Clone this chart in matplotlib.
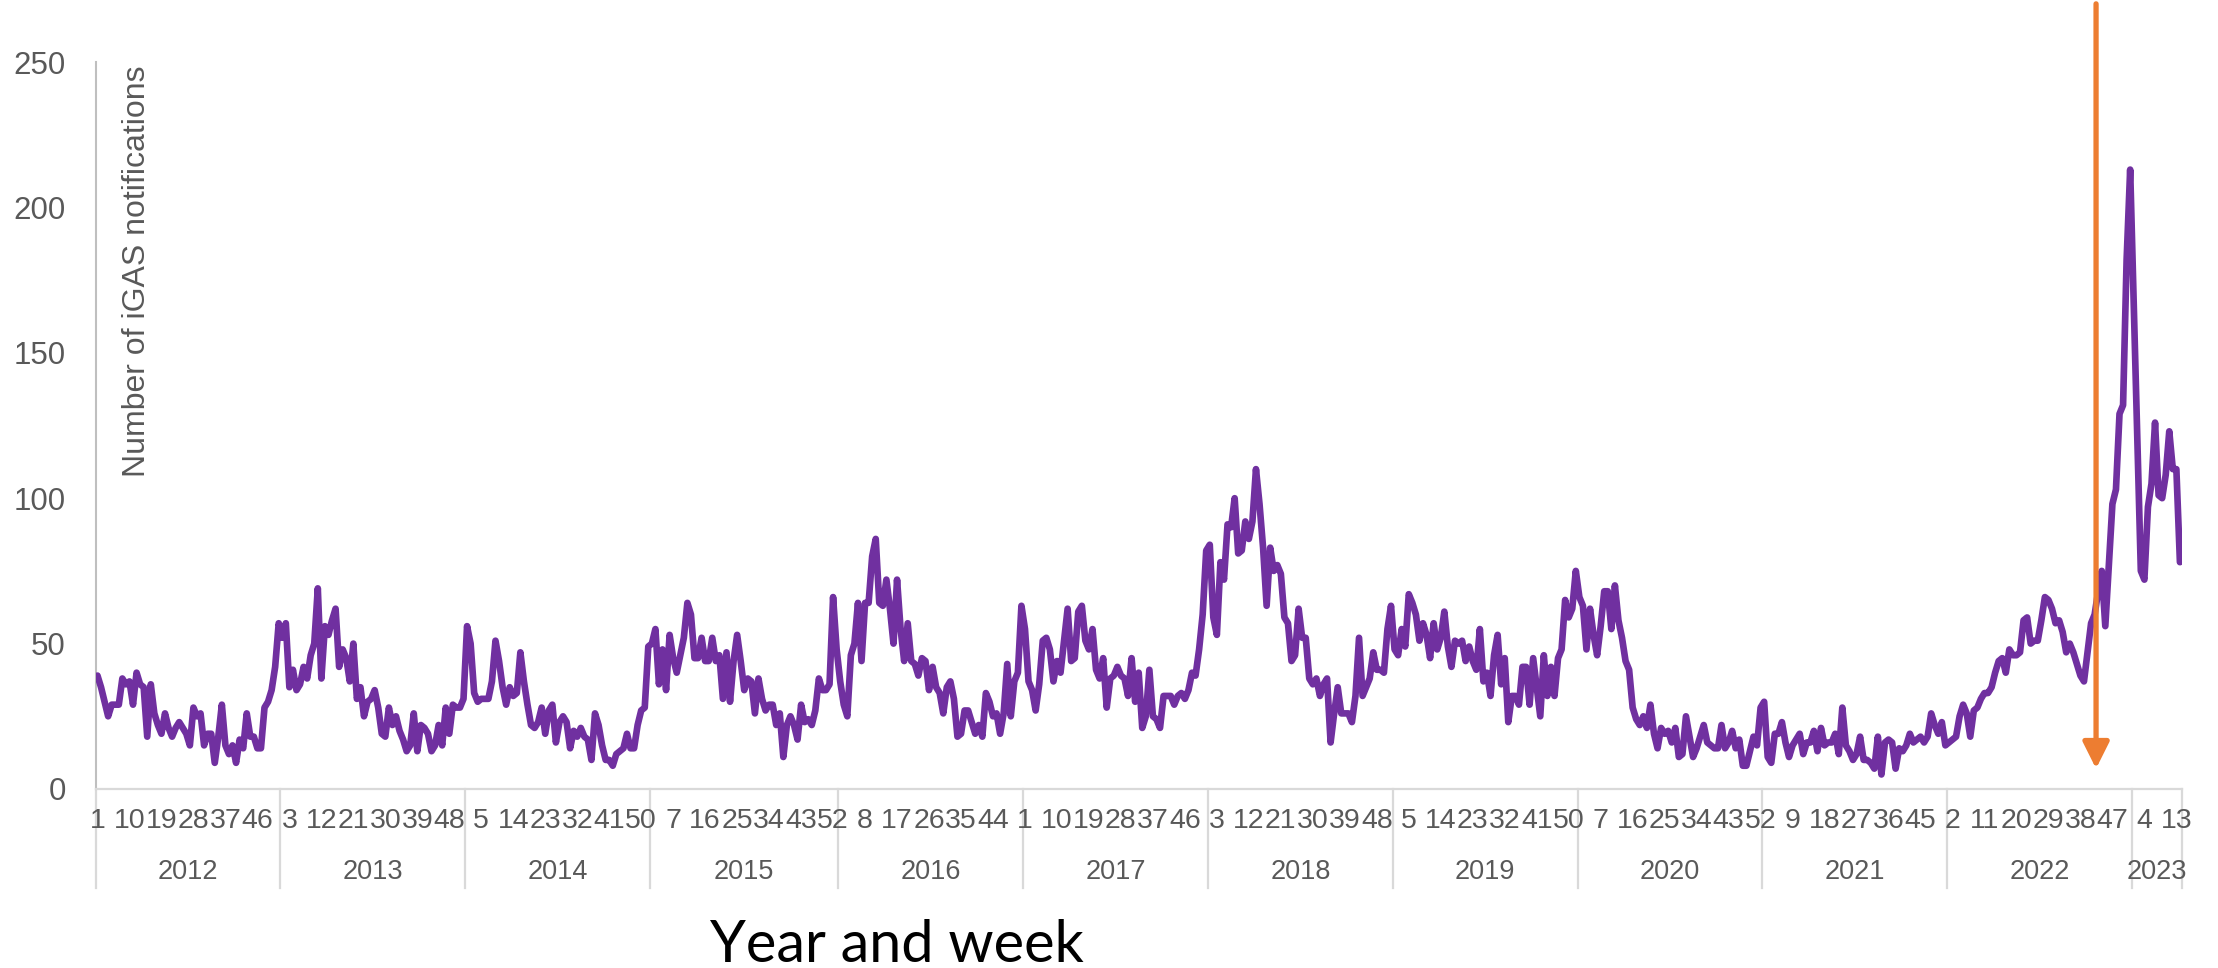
import matplotlib
matplotlib.use("Agg")
import matplotlib.pyplot as plt
from matplotlib.transforms import blended_transform_factory
import numpy as np

# ---------------- data: weekly iGAS notifications ----------------
years = [2012, 2013, 2014, 2015, 2016, 2017, 2018, 2019, 2020, 2021, 2022, 2023]

v2012 = [39, 35, 30, 25, 29, 29, 29, 38, 36, 37, 29, 40, 36, 35, 18, 36, 26, 22, 19, 26,
         21, 18, 21, 23, 21, 19, 15, 28, 25, 26, 15, 19, 19, 9, 18, 29, 15, 12, 15, 9,
         17, 14, 26, 18, 18, 14, 14, 28, 30, 34, 42, 57]
v2013 = [52, 57, 35, 41, 34, 36, 42, 38, 46, 50, 69, 38, 56, 53, 58, 62, 42, 48, 45, 37,
         50, 31, 35, 25, 30, 31, 34, 28, 19, 18, 28, 22, 25, 20, 17, 13, 15, 26, 13, 22,
         21, 19, 13, 15, 22, 15, 28, 19, 29, 28, 28, 31]
v2014 = [56, 50, 33, 30, 31, 31, 31, 37, 51, 44, 35, 29, 35, 32, 33, 47, 37, 29, 22, 21,
         23, 28, 19, 27, 29, 16, 23, 25, 23, 14, 20, 18, 21, 18, 17, 10, 26, 22, 15, 10,
         10, 8, 12, 13, 14, 19, 14, 14, 22, 27, 28, 49]
v2015 = [50, 55, 36, 48, 34, 53, 45, 40, 46, 52, 64, 60, 45, 45, 52, 44, 44, 52, 44, 46,
         31, 47, 30, 44, 53, 44, 34, 38, 37, 26, 38, 31, 27, 29, 29, 22, 26, 11, 22, 25,
         22, 17, 29, 23, 24, 22, 27, 38, 34, 34, 36, 66, 48]
v2016 = [37, 29, 25, 46, 50, 64, 44, 64, 64, 80, 86, 64, 63, 72, 62, 50, 72, 55, 44, 57,
         44, 43, 39, 45, 44, 34, 42, 35, 33, 26, 35, 37, 31, 18, 19, 27, 27, 23, 19, 22,
         18, 33, 30, 25, 26, 19, 26, 43, 25, 37, 40, 63]
v2017 = [55, 37, 34, 27, 36, 51, 52, 48, 37, 44, 40, 51, 62, 44, 45, 61, 63, 51, 48, 55,
         41, 38, 45, 28, 38, 39, 42, 39, 38, 32, 45, 30, 40, 21, 25, 41, 25, 24, 21, 32,
         32, 32, 29, 32, 33, 31, 34, 40, 39, 48, 60, 82]
v2018 = [84, 59, 53, 78, 72, 91, 90, 100, 81, 82, 92, 86, 92, 110, 98, 83, 63, 83, 75, 77,
         74, 59, 57, 44, 46, 62, 52, 52, 38, 36, 38, 32, 36, 38, 16, 26, 35, 26, 26, 26,
         23, 32, 52, 32, 35, 38, 47, 41, 41, 40, 55, 63]
v2019 = [48, 46, 55, 49, 67, 64, 60, 51, 57, 53, 45, 57, 48, 52, 61, 49, 42, 51, 50, 51,
         44, 49, 44, 41, 55, 37, 40, 32, 46, 53, 36, 45, 23, 32, 32, 29, 42, 42, 29, 45,
         35, 25, 46, 32, 42, 32, 45, 48, 65, 59, 62, 75]
v2020 = [66, 63, 48, 62, 53, 46, 56, 68, 68, 55, 70, 58, 52, 44, 41, 28, 24, 22, 25, 21,
         29, 19, 14, 21, 19, 20, 16, 21, 11, 12, 25, 18, 11, 14, 18, 22, 16, 15, 14, 14,
         22, 14, 16, 20, 14, 17, 8, 8, 13, 18, 15, 28]
v2021 = [30, 11, 9, 19, 19, 23, 16, 11, 15, 17, 19, 12, 16, 16, 20, 13, 21, 15, 16, 16,
         19, 12, 28, 15, 13, 10, 12, 18, 10, 10, 9, 7, 18, 5, 16, 17, 16, 7, 14, 13,
         15, 19, 16, 17, 18, 16, 18, 26, 22, 19, 23, 15]
v2022 = [16, 17, 18, 25, 29, 26, 18, 27, 28, 31, 33, 33, 35, 40, 44, 45, 40, 48, 46, 46,
         47, 58, 59, 50, 51, 51, 58, 66, 65, 62, 57, 58, 54, 47, 50, 47, 43, 39, 37, 47,
         57, 60, 68, 75, 56, 77, 98, 103, 129, 132, 182, 213]
v2023 = [167, 121, 75, 72, 97, 105, 126, 101, 100, 108, 123, 110, 110, 78]

series = [v2012, v2013, v2014, v2015, v2016, v2017, v2018, v2019, v2020, v2021, v2022, v2023]
y_ticks = [0, 50, 100, 150, 200, 250]
y_label = "Number of iGAS notifications"
x_title = "Year and week"
tick_every = 9
arrow_week_pos = 562.4  # position of the vertical orange marker (category units)

# ---------------- derived ----------------
weeks_per_year = [len(s) for s in series]
values = [v for s in series for v in s]
week_numbers = [w for n in weeks_per_year for w in range(1, n + 1)]
x = np.arange(len(values))

W, H = 2218, 968
fig = plt.figure(figsize=(W / 100, H / 100), dpi=100)
ax_left, ax_right = 95.7 / W, 2181.7 / W
ax_bottom, ax_top = 1 - 789 / H, 1 - 62 / H
ax = fig.add_axes([ax_left, ax_bottom, ax_right - ax_left, ax_top - ax_bottom])

grey_txt = "#595959"
font = "Liberation Sans"

ax.plot(x, values, color="#7030A0", lw=4.8, solid_joinstyle="round",
        solid_capstyle="round", zorder=3)

ax.set_xlim(-0.5, len(values) - 0.5)
ax.set_ylim(0, 250)
ax.set_yticks(y_ticks)
ax.set_yticklabels([str(t) for t in y_ticks], fontsize=22.5, color=grey_txt,
                   fontfamily=font)
ax.tick_params(axis="y", length=0, pad=21.6)
ax.set_xticks([])

for s in ["top", "right"]:
    ax.spines[s].set_visible(False)
ax.spines["left"].set_color("#BFBFBF")
ax.spines["left"].set_linewidth(1.5)
ax.spines["bottom"].set_color("#D9D9D9")
ax.spines["bottom"].set_linewidth(1.6)

trans = blended_transform_factory(ax.transData, fig.transFigure)

# week labels
for xi in x[::tick_every]:
    ax.text(xi, 1 - 821 / H, str(week_numbers[xi]), transform=trans, ha="center",
            va="center", fontsize=20.5, color=grey_txt, fontfamily=font, clip_on=False)

# year labels and separators
start = 0
bounds = [-0.5]
for yr, n in zip(years, weeks_per_year):
    ax.text(start + (n - 1) / 2, 1 - 872 / H, str(yr), transform=trans, ha="center",
            va="center", fontsize=19.5, color=grey_txt, fontfamily=font, clip_on=False)
    start += n
    bounds.append(start - 0.5)
for b in bounds:
    ax.plot([b, b], [ax_bottom, 1 - 888 / H], transform=trans, color="#D9D9D9",
            lw=1.6, clip_on=False, zorder=1)

# y-axis label (inside plot area)
fig.text(137 / W, 1 - 66 / H, y_label, rotation=90, ha="center", va="top",
         fontsize=23, color=grey_txt, fontfamily=font)

# x title
fig.text(897 / W, 1 - 962 / H, x_title, ha="center", va="baseline",
         fontsize=41.5, color="black", fontfamily="Lato")

# orange arrow
ax.annotate("", xy=(arrow_week_pos, 7), xytext=(arrow_week_pos, 270),
            xycoords="data", textcoords="data", annotation_clip=False,
            arrowprops=dict(arrowstyle="-|>,head_length=1.0,head_width=0.5",
                            mutation_scale=16, color="#ED7D31", lw=3.8,
                            shrinkA=0, shrinkB=0), zorder=4)

fig.savefig("out.png", dpi=100)
